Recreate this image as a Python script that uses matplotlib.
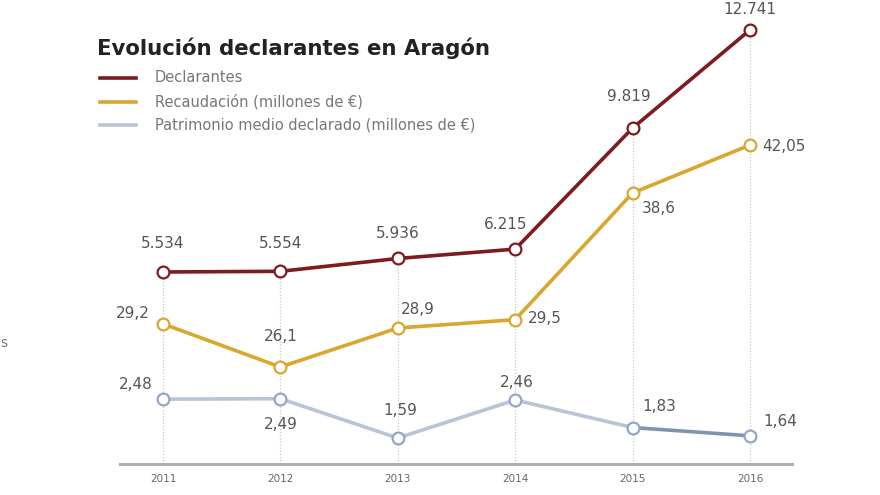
import matplotlib
matplotlib.use("Agg")
import matplotlib.pyplot as plt

years = [2011, 2012, 2013, 2014, 2015, 2016]
declarantes = [5534, 5554, 5936, 6215, 9819, 12741]
recaudacion = [29.2, 26.1, 28.9, 29.5, 38.6, 42.05]
patrimonio = [2.48, 2.49, 1.59, 2.46, 1.83, 1.64]
decl_labels = ["5.534", "5.554", "5.936", "6.215", "9.819", "12.741"]
rec_labels = ["29,2", "26,1", "28,9", "29,5", "38,6", "42,05"]
pat_labels = ["2,48", "2,49", "1,59", "2,46", "1,83", "1,64"]
series_names = ["Declarantes", "Recaudación (millones de €)",
                "Patrimonio medio declarado (millones de €)"]
title = "Evolución declarantes en Aragón"

W, H = 880, 495
fig = plt.figure(figsize=(W / 100, H / 100), dpi=100)
fig.patch.set_facecolor("white")

def px2fig(x0, y0, x1, y1):
    return [x0 / W, 1 - y1 / H, (x1 - x0) / W, (y1 - y0) / H]

rect = px2fig(120, 20, 792, 464)
ax = fig.add_axes(rect)
ax2 = fig.add_axes(rect, sharex=ax)
ax3 = fig.add_axes(rect, sharex=ax)
for a in (ax, ax2, ax3):
    a.set_facecolor("none")
    for s in a.spines.values():
        s.set_visible(False)
    a.set_yticks([])
ax2.tick_params(bottom=False, labelbottom=False)
ax3.tick_params(bottom=False, labelbottom=False)

ax.set_xlim(2010.634, 2016.358)
ax.set_ylim(-184, 13038)
ax2.set_ylim(19.13, 51.03)
ax3.set_ylim(0.995, 11.16)

red = "#7d1b1f"
gold = "#d9a72e"
blue = "#b9c4d8"
blue_dark = "#7f93b3"
txt = "#555555"

# dotted vertical guides from baseline to top series
ax.vlines(years, -184, declarantes, colors="#c8c8c8", linestyles=(0, (1, 1.5)),
          linewidth=0.9, zorder=1)
ax.axhline(-184, color="#b0b0b0", linewidth=2.2, zorder=2, clip_on=False)

mk = dict(marker="o", markersize=8.5, markerfacecolor="white",
          markeredgewidth=1.6, zorder=5)
ax.plot(years, declarantes, color=red, linewidth=2.6, markeredgecolor=red, **mk)
ax2.plot(years, recaudacion, color=gold, linewidth=2.6, markeredgecolor=gold, **mk)
ax3.plot(years[:5], patrimonio[:5], color=blue, linewidth=2.6, zorder=4)
ax3.plot(years[4:], patrimonio[4:], color=blue_dark, linewidth=2.6, zorder=4)
ax3.plot(years, patrimonio, linestyle="none", markeredgecolor="#93a6c4", **mk)

ax.set_xticks(years)
ax.set_xticklabels([str(y) for y in years], fontsize=7.5, color="#666666")
ax.tick_params(axis="x", length=0, pad=7)

def lab(a, xs, ys, texts, offs):
    for x, y, t, (dx, dy) in zip(xs, ys, texts, offs):
        a.annotate(t, (x, y), xytext=(dx * 0.72, dy * 0.72),
                   textcoords="offset points", ha="center", va="center",
                   fontsize=11, color=txt, zorder=6)

lab(ax, years, declarantes, decl_labels,
    [(0, 28), (0, 28), (0, 25), (-10, 25), (-4, 32), (0, 20)])
lab(ax2, years, recaudacion, rec_labels,
    [(-30, 10), (0, 30), (20, 19), (30, 1), (26, -15), (34, -2)])
lab(ax3, years, patrimonio, pat_labels,
    [(-27, 15), (0, -26), (2, 28), (2, 18), (27, 21), (30, 14)])

# title and legend
fig.text(97 / W, 1 - 48 / H, title, fontsize=15.3, fontweight="bold",
         color="#222222", ha="left", va="center")
leg_colors = [red, gold, blue]
leg_y = [78, 102, 125]
for name, c, y in zip(series_names, leg_colors, leg_y):
    fig.add_artist(plt.Line2D([100 / W, 136 / W], [1 - y / H, 1 - y / H],
                              color=c, linewidth=2.6))
    fig.text(155 / W, 1 - y / H, name, fontsize=10.5, color="#777777",
             ha="left", va="center")

fig.text(0 / W, 1 - 343 / H, "s", fontsize=10, color="#777777",
         ha="left", va="center")

fig.savefig("out.png", dpi=100, facecolor="white")
